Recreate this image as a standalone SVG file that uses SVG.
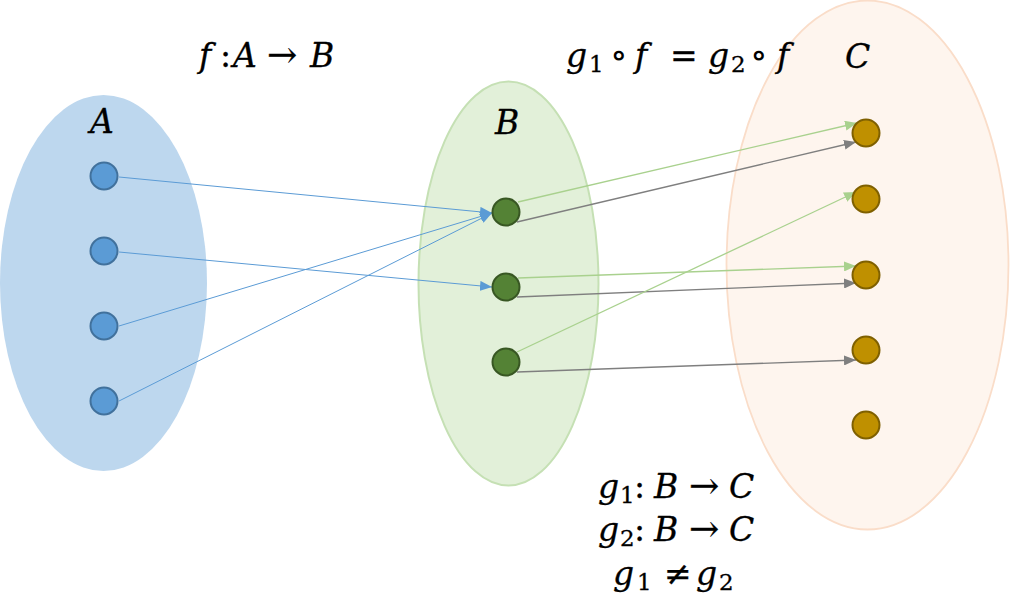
<svg xmlns="http://www.w3.org/2000/svg" width="1011" height="605" viewBox="0 0 1011 605">
<style>
.t{font-family:"DejaVu Serif","Liberation Serif",serif;font-size:33px;font-style:italic;fill:#000;stroke:#000;stroke-width:0.3}
.u{font-style:normal}
.o{font-style:normal;font-size:36px;stroke-width:0}
.ar{font-style:normal;font-size:36px}
.s{font-style:normal;font-size:23px}
.da{fill:#5B9BD5;stroke:#41719C;stroke-width:2}
.db{fill:#548235;stroke:#385723;stroke-width:2}
.dc{fill:#BF9000;stroke:#7F6000;stroke-width:2}
.lb{stroke:#5B9BD5;stroke-width:1;fill:none}
.lg{stroke:#A9D18E;stroke-width:1.3;fill:none}
.lk{stroke:#7F7F7F;stroke-width:1.3;fill:none}
</style>
<defs>
<marker id="mb" markerUnits="userSpaceOnUse" markerWidth="12" markerHeight="10" refX="12" refY="5" orient="auto"><path d="M0,0 L12,5 L0,10 z" fill="#5B9BD5"/></marker>
<marker id="mg" markerUnits="userSpaceOnUse" markerWidth="12" markerHeight="10" refX="12" refY="5" orient="auto"><path d="M0,0 L12,5 L0,10 z" fill="#A9D18E"/></marker>
<marker id="mk" markerUnits="userSpaceOnUse" markerWidth="12" markerHeight="10" refX="12" refY="5" orient="auto"><path d="M0,0 L12,5 L0,10 z" fill="#7F7F7F"/></marker>
</defs>
<rect width="1011" height="605" fill="#FFFFFF"/>
<g id="setA"><ellipse cx="103.5" cy="283" rx="103.5" ry="188" fill="#BDD7EE"/><text class="t" x="90" y="133">A</text></g>
<g id="setB"><ellipse cx="508.5" cy="283.5" rx="90" ry="202" fill="#E2F0D9" stroke="#C5E0B4" stroke-width="2"/><text class="t" x="495" y="134">B</text></g>
<g id="setC"><ellipse cx="867.5" cy="265" rx="141" ry="264.5" fill="#FEF5EE" stroke="#FADDC9" stroke-width="1.8"/><text class="t" x="845" y="68">C</text></g>
<g id="connectors">
<line class="lb" x1="119" y1="177" x2="492" y2="213" marker-end="url(#mb)"/>
<line class="lb" x1="119" y1="252" x2="492" y2="287" marker-end="url(#mb)"/>
<line class="lb" x1="119" y1="326" x2="492" y2="213" marker-end="url(#mb)"/>
<line class="lb" x1="119" y1="401" x2="492" y2="213" marker-end="url(#mb)"/>
<line class="lg" x1="518" y1="202" x2="857" y2="123" marker-end="url(#mg)"/>
<line class="lk" x1="517" y1="222" x2="856" y2="142" marker-end="url(#mk)"/>
<line class="lg" x1="518" y1="278" x2="856" y2="266" marker-end="url(#mg)"/>
<line class="lk" x1="517" y1="297" x2="856" y2="283" marker-end="url(#mk)"/>
<line class="lg" x1="517" y1="352" x2="856" y2="192" marker-end="url(#mg)"/>
<line class="lk" x1="517" y1="372" x2="856" y2="360" marker-end="url(#mk)"/>
</g>
<g id="a1"><circle class="da" cx="104" cy="176" r="13.5"/></g>
<g id="a2"><circle class="da" cx="104" cy="251" r="13.5"/></g>
<g id="a3"><circle class="da" cx="104" cy="326" r="13.5"/></g>
<g id="a4"><circle class="da" cx="104" cy="401" r="13.5"/></g>
<g id="b1"><circle class="db" cx="506" cy="212" r="13.5"/></g>
<g id="b2"><circle class="db" cx="506" cy="287" r="13.5"/></g>
<g id="b3"><circle class="db" cx="506" cy="362" r="13.5"/></g>
<g id="c1"><circle class="dc" cx="866" cy="133" r="13.5"/></g>
<g id="c2"><circle class="dc" cx="866" cy="199" r="13.5"/></g>
<g id="c3"><circle class="dc" cx="866" cy="275" r="13.5"/></g>
<g id="c4"><circle class="dc" cx="866" cy="350" r="13.5"/></g>
<g id="c5"><circle class="dc" cx="866" cy="425" r="13.5"/></g>
<g id="labels">
<text class="t" y="67"><tspan x="199">f</tspan><tspan class="u" x="220">:</tspan><tspan x="233">A</tspan><tspan class="ar" x="267">→</tspan><tspan x="310">B</tspan></text>
<text class="t" y="67"><tspan x="566">g</tspan><tspan class="s" x="589" dy="5">1</tspan><tspan class="o" x="610" dy="-5">∘</tspan><tspan x="635">f</tspan><tspan class="u" x="670">=</tspan><tspan x="708">g</tspan><tspan class="s" x="731" dy="5">2</tspan><tspan class="o" x="750" dy="-5">∘</tspan><tspan x="777">f</tspan></text>
<text class="t" y="498"><tspan x="598">g</tspan><tspan class="s" x="620" dy="5">1</tspan><tspan class="u" x="634" dy="-5">:</tspan><tspan x="654">B</tspan><tspan class="ar" x="689">→</tspan><tspan x="729">C</tspan></text>
<text class="t" y="541"><tspan x="598">g</tspan><tspan class="s" x="620" dy="5">2</tspan><tspan class="u" x="634" dy="-5">:</tspan><tspan x="654">B</tspan><tspan class="ar" x="689">→</tspan><tspan x="729">C</tspan></text>
<text class="t" y="585"><tspan x="613">g</tspan><tspan class="s" x="637" dy="5">1</tspan><tspan class="u" x="664" dy="-5">≠</tspan><tspan x="696">g</tspan><tspan class="s" x="719" dy="5">2</tspan></text>
</g>
</svg>
